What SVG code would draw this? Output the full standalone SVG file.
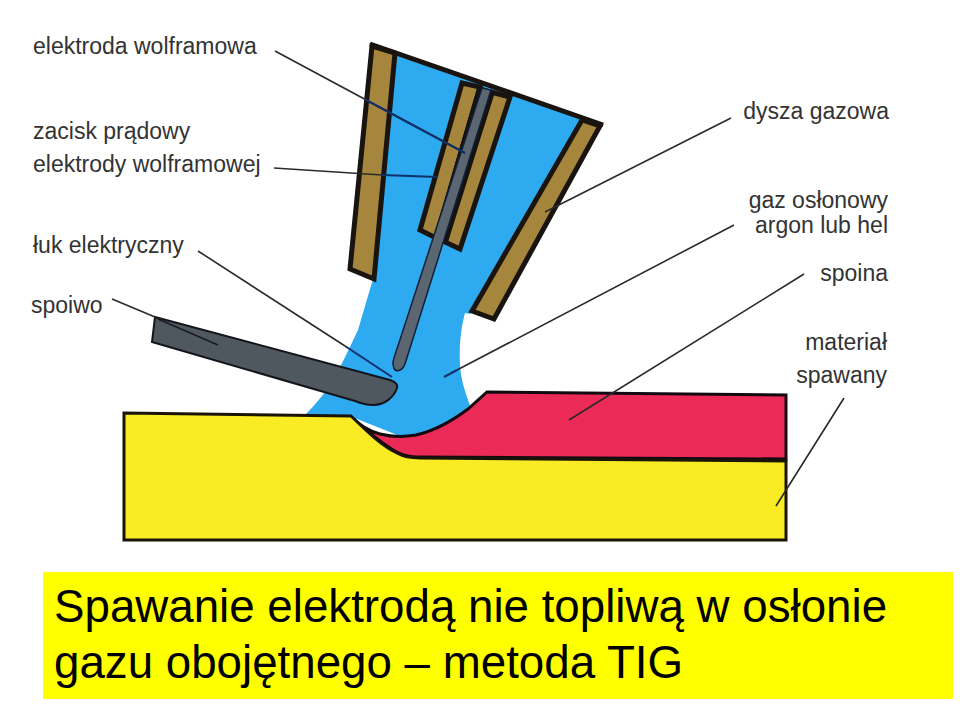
<svg xmlns="http://www.w3.org/2000/svg" width="960" height="704" viewBox="0 0 960 704">
<style>
.lb{font-family:"Liberation Sans",Arial,sans-serif;font-size:23px;fill:#333}
.ti{font-family:"Liberation Sans",Arial,sans-serif;font-size:45.7px;fill:#000}
.br{fill:#a5863c;stroke:#1a1410;stroke-width:5;stroke-linejoin:miter}
.ln{fill:none;stroke:#2a2a2a;stroke-width:1.6}
.bl{fill:none;stroke:#10306a;stroke-width:2}
</style>
<rect width="960" height="704" fill="#fff"/>
<g id="gas"><path d="M372 45L600 124L470 314L465 313C461 328 459 345 460 365C461 380 465 392 471 408L440 430L405 438L352 417L306 414C322 398 333 382 340 367C348 352 353 340 358 330L373 279Z" fill="#2eaaf0"/></g>
<g id="weld"><path d="M351 417C362 426 368 431 380 434C392 437 405 437 416 435C434 431 452 421 468 409L487 392L786 395V459L417 457C400 457 392 449 380 441C370 433 360 425 351 417Z" fill="#ec2a58" stroke="#120a10" stroke-width="3"/></g>
<g id="base"><path d="M124 413L351 416C366 430 380 445 397 453C404 457 411 458 420 458L786 461V540H124Z" fill="#f9ec25" stroke="#1a1408" stroke-width="3"/></g>
<g id="nozzle-left"><polygon class="br" points="372,46 395,53 374,279 350,269"/></g>
<g id="nozzle-right"><polygon class="br" points="582,120 600,126 494,319 472,311"/></g>
<g id="clamp-left"><polygon class="br" points="462,83 480,87 436,238 420,230"/></g>
<g id="clamp-right"><polygon class="br" points="491,92 510,97 460,249 445,242"/></g>
<g id="clamp-core"><polygon points="478,85 495,92 448,242 434,236" fill="#15120f"/></g>
<g id="top-edge"><path d="M370 44L603 125" fill="none" stroke="#1a1410" stroke-width="5"/></g>
<g id="electrode"><path d="M482 88L491 90L405 364C402 372 395 372 394 368C392 364 393 361 394 358Z" fill="#5b6670" stroke="#10203a" stroke-width="1.5"/></g>
<g id="filler"><path d="M155 317L390 380C396 382 398 385 397 388C394 397 385 405 373 405C365 405 360 403 355 401L152 342Z" fill="#50585f" stroke="#14141c" stroke-width="2"/></g>
<g id="connectors">
<path class="ln" d="M275 51L465 153M274 168L382 175M198 251L345 346M112 299L155 317M731 118L545 212M734 225L457 370M804 274L569 420M844 398L776 506"/>
<path class="bl" d="M366 100L465 153M382 175L438 177M345 346L392 377M457 370L444 377"/>
<path d="M158 319L218 345" fill="none" stroke="#1a1a20" stroke-width="1.5"/>
</g>
<g id="labels">
<text class="lb" x="33" y="54">elektroda wolframowa</text>
<text class="lb" x="33" y="139">zacisk prądowy</text>
<text class="lb" x="33" y="172">elektrody wolframowej</text>
<text class="lb" x="33" y="253">łuk elektryczny</text>
<text class="lb" x="31" y="313">spoiwo</text>
<text class="lb" x="889" y="119" text-anchor="end">dysza gazowa</text>
<text class="lb" x="888" y="208" text-anchor="end">gaz osłonowy</text>
<text class="lb" x="888" y="233" text-anchor="end">argon lub hel</text>
<text class="lb" x="888" y="281" text-anchor="end">spoina</text>
<text class="lb" x="887" y="350" text-anchor="end">materiał</text>
<text class="lb" x="887" y="383" text-anchor="end">spawany</text>
</g>
<g id="title">
<rect x="43" y="572" width="910" height="127" fill="#ffff00"/>
<text class="ti" x="54" y="622">Spawanie elektrodą nie topliwą w osłonie</text>
<text class="ti" x="54" y="678">gazu obojętnego – metoda TIG</text>
</g>
</svg>
